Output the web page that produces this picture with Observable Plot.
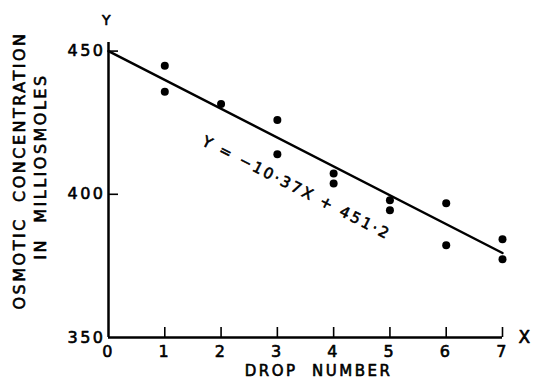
<!DOCTYPE html>
<html>
<head>
<meta charset="utf-8">
<script src="https://cdn.jsdelivr.net/npm/d3@7"></script>
<script src="https://cdn.jsdelivr.net/npm/@observablehq/plot@0.6"></script>
<style>
  html, body { margin: 0; padding: 0; background: #fff; }
  svg text { letter-spacing: 2.5px; }
</style>
</head>
<body>
<div id="chart"></div>
<script>
// Data
const dropNumber = [1, 1, 2, 3, 3, 4, 4, 5, 5, 6, 6, 7, 7];
const osmotic = [444.9, 435.8, 431.5, 425.9, 414.0, 407.3, 403.8, 397.9, 394.4, 396.9, 382.2, 384.3, 377.3];
const fitX = [0, 7];
const fitY = [450.0, 379.5];
const xTicks = [0, 1, 2, 3, 4, 5, 6, 7];
const yTicks = [350, 400, 450];
const yInnerTicks = [400, 450];
const equation = "Y = \u221210\u00b737X + 451\u00b72";
const yTitle1 = "OSMOTIC  CONCENTRATION";
const yTitle2 = "IN  MILLIOSMOLES";
const xTitle = "DROP  NUMBER";

const points = dropNumber.map((x, i) => ({x, y: osmotic[i]}));
const fit = fitX.map((x, i) => ({x, y: fitY[i]}));

const ink = {fill: "#000", stroke: "#000", strokeWidth: 0.6};

const chart = Plot.plot({
  width: 533,
  height: 380,
  marginLeft: 108,
  marginRight: 31,
  marginTop: 42,
  marginBottom: 43,
  x: {domain: [0, 7], axis: null},
  y: {domain: [350, 453], axis: null},
  style: {fontFamily: "'DejaVu Sans', sans-serif", background: "#fff", color: "#000"},
  marks: [
    // axis lines
    Plot.ruleX([0], {stroke: "#000", strokeWidth: 2.5}),
    Plot.ruleY([350], {stroke: "#000", strokeWidth: 2.5}),
    // inward ticks
    Plot.ruleX(xTicks.slice(1), {x: d => d, insetTop: 285, stroke: "#000", strokeWidth: 1.6}),
    Plot.ruleY(yInnerTicks, {y: d => d, insetRight: 384, stroke: "#000", strokeWidth: 1.6}),
    // tick labels
    Plot.text(xTicks, {x: d => d, frameAnchor: "bottom", dy: 8, lineAnchor: "top", fontSize: 16, text: d => String(d), ...ink}),
    Plot.text(yTicks, {y: d => d, frameAnchor: "left", dx: -3, textAnchor: "end", lineAnchor: "middle", fontSize: 16, text: d => String(d), ...ink}),
    // axis letters
    Plot.text(["Y"], {frameAnchor: "top-left", dx: -1, dy: -22, textAnchor: "middle", lineAnchor: "middle", fontSize: 14, ...ink}),
    Plot.text(["X"], {frameAnchor: "bottom-right", dx: 23, dy: 0, textAnchor: "middle", lineAnchor: "middle", fontSize: 17, ...ink}),
    // titles
    Plot.text([yTitle1], {frameAnchor: "left", dx: -89, dy: -19.5, rotate: -90, textAnchor: "middle", lineAnchor: "middle", fontSize: 16, ...ink}),
    Plot.text([yTitle2], {frameAnchor: "left", dx: -68, dy: -23.5, rotate: -90, textAnchor: "middle", lineAnchor: "middle", fontSize: 16, ...ink}),
    Plot.text([xTitle], {frameAnchor: "bottom", dx: 13, dy: 28, textAnchor: "middle", lineAnchor: "top", fontSize: 15, ...ink}),
    // regression line
    Plot.line(fit, {x: "x", y: "y", stroke: "#000", strokeWidth: 2.5}),
    // data points
    Plot.dot(points, {x: "x", y: "y", r: 4, fill: "#000", stroke: "none"}),
    // equation
    Plot.text([equation], {x: 3.34, y: 402.2, rotate: 27, textAnchor: "middle", lineAnchor: "middle", fontSize: 15, ...ink})
  ]
});
document.getElementById("chart").appendChild(chart);
</script>
</body>
</html>
